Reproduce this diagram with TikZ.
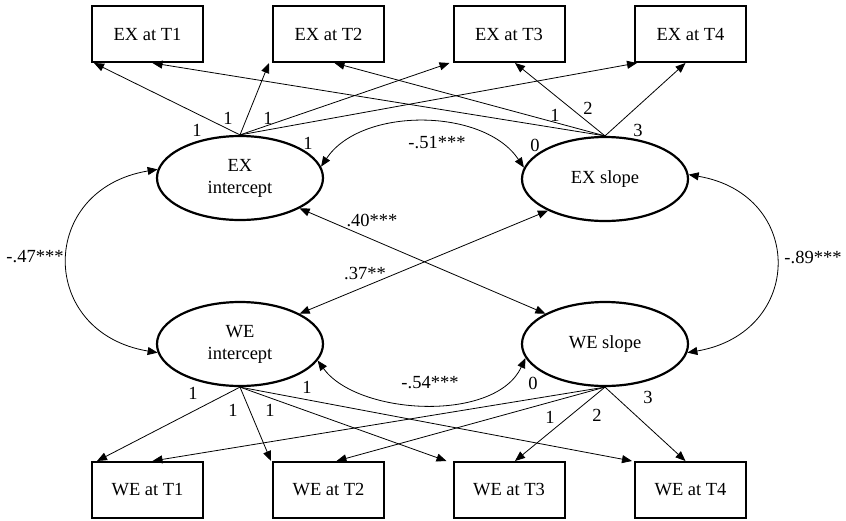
\documentclass[tikz,border=0pt]{standalone}
\usepackage{fontspec}
\setmainfont{Liberation Serif}
\usetikzlibrary{arrows.meta,shapes.geometric,calc}
\begin{document}
\begin{tikzpicture}[x=1pt,y=-1pt,
  every node/.style={font=\fontsize{18.5}{22}\selectfont},
  obsbox/.style={draw,line width=2pt,minimum width=111pt,minimum height=56pt,inner sep=0pt},
  latent/.style={draw,ellipse,line width=2.2pt,minimum width=166pt,minimum height=84pt,inner sep=0pt,align=center},
  path/.style={line width=0.8pt,-{Triangle[length=10pt,width=8pt]}},
  cov/.style={line width=0.8pt,{Triangle[length=10pt,width=8pt]}-{Triangle[length=10pt,width=8pt]}},
  lbl/.style={inner sep=0pt}]
\useasboundingbox (0,0) rectangle (846,520);
% observed boxes
\node[obsbox] (X1) at (147.5,34) {EX at T1};
\node[obsbox] (X2) at (328.5,34) {EX at T2};
\node[obsbox] (X3) at (509,34) {EX at T3};
\node[obsbox] (X4) at (690.5,34) {EX at T4};
\node[obsbox] (W1) at (147.5,490) {WE at T1};
\node[obsbox] (W2) at (328.5,490) {WE at T2};
\node[obsbox] (W3) at (509,490) {WE at T3};
\node[obsbox] (W4) at (690.5,490) {WE at T4};
% latent ellipses
\node[latent] (EXi) at (240,178) {EX\\intercept};
\node[latent] (EXs) at (605,179) {EX slope};
\node[latent] (WEi) at (240,344) {WE\\intercept};
\node[latent] (WEs) at (605,344) {WE slope};
% loadings top
\draw[path] (EXi.north) -- ([xshift=3pt]X1.south west);
\draw[path] (EXi.north) -- ([xshift=-3pt]X2.south west);
\draw[path] (EXi.north) -- ([xshift=-3pt]X3.south west);
\draw[path] (EXi.north) -- ([xshift=3pt]X4.south west);
\draw[path] (EXs.north) -- ([xshift=5pt]X1.south);
\draw[path] (EXs.north) -- ([xshift=6pt]X2.south);
\draw[path] (EXs.north) -- ([xshift=6pt]X3.south);
\draw[path] (EXs.north) -- ([xshift=-5pt]X4.south);
% loadings bottom
\draw[path] (WEi.south) -- ([xshift=6pt]W1.north west);
\draw[path] (WEi.south) -- ([xshift=-1pt]W2.north west);
\draw[path] (WEi.south) -- ([xshift=-6pt]W3.north west);
\draw[path] (WEi.south) -- ([xshift=-2pt]W4.north west);
\draw[path] (WEs.south) -- ([xshift=5pt]W1.north);
\draw[path] (WEs.south) -- ([xshift=8pt]W2.north);
\draw[path] (WEs.south) -- ([xshift=6pt]W3.north);
\draw[path] (WEs.south) -- ([xshift=-5pt]W4.north);
% covariances
\draw[cov] (EXi.8) .. controls ($(EXi.8)+(40,-60)$) and ($(EXs.172)+(-40,-60)$) .. (EXs.172);
\draw[cov] (WEi.-12) .. controls ($(WEi.-12)+(40,55)$) and ($(WEs.190)+(-30,65)$) .. (WEs.190);
\draw[cov] (EXi.174) .. controls ($(EXi.174)+(-120,20)$) and ($(WEi.186)+(-120,-20)$) .. (WEi.186);
\draw[cov] (EXs.3) .. controls ($(EXs.3)+(117,20)$) and ($(WEs.-6)+(117,-20)$) .. (WEs.-6);
\draw[cov] (EXi.-27) -- (WEs.153);
\draw[cov] (EXs.209) -- (WEi.27);
% labels
\node[lbl] (la1) at (197,130) {1};
\node[lbl] (la2) at (228,118) {1};
\node[lbl] (la3) at (268,118) {1};
\node[lbl] (la4) at (308,143) {1};
\node[lbl] (lb1) at (555,115) {1};
\node[lbl] (lb2) at (588,108) {2};
\node[lbl] (lb3) at (638,130) {3};
\node[lbl] (lb0) at (535,145) {0};
\node[lbl] (lc1) at (193,393) {1};
\node[lbl] (lc2) at (233,410) {1};
\node[lbl] (lc3) at (270,410) {1};
\node[lbl] (lc4) at (307,387) {1};
\node[lbl] (ld0) at (533,383) {0};
\node[lbl] (ld1) at (550,417) {1};
\node[lbl] (ld2) at (597,415) {2};
\node[lbl] (ld3) at (648,397) {3};
\node[lbl] (r51) at (437,143) {-.51***};
\node[lbl] (r54) at (430,383) {-.54***};
\node[lbl] (r47) at (35,257) {-.47***};
\node[lbl] (r89) at (813,257) {-.89***};
\node[lbl] (r40) at (372,220) {.40***};
\node[lbl] (r37) at (365,273) {.37**};
\end{tikzpicture}
\end{document}
